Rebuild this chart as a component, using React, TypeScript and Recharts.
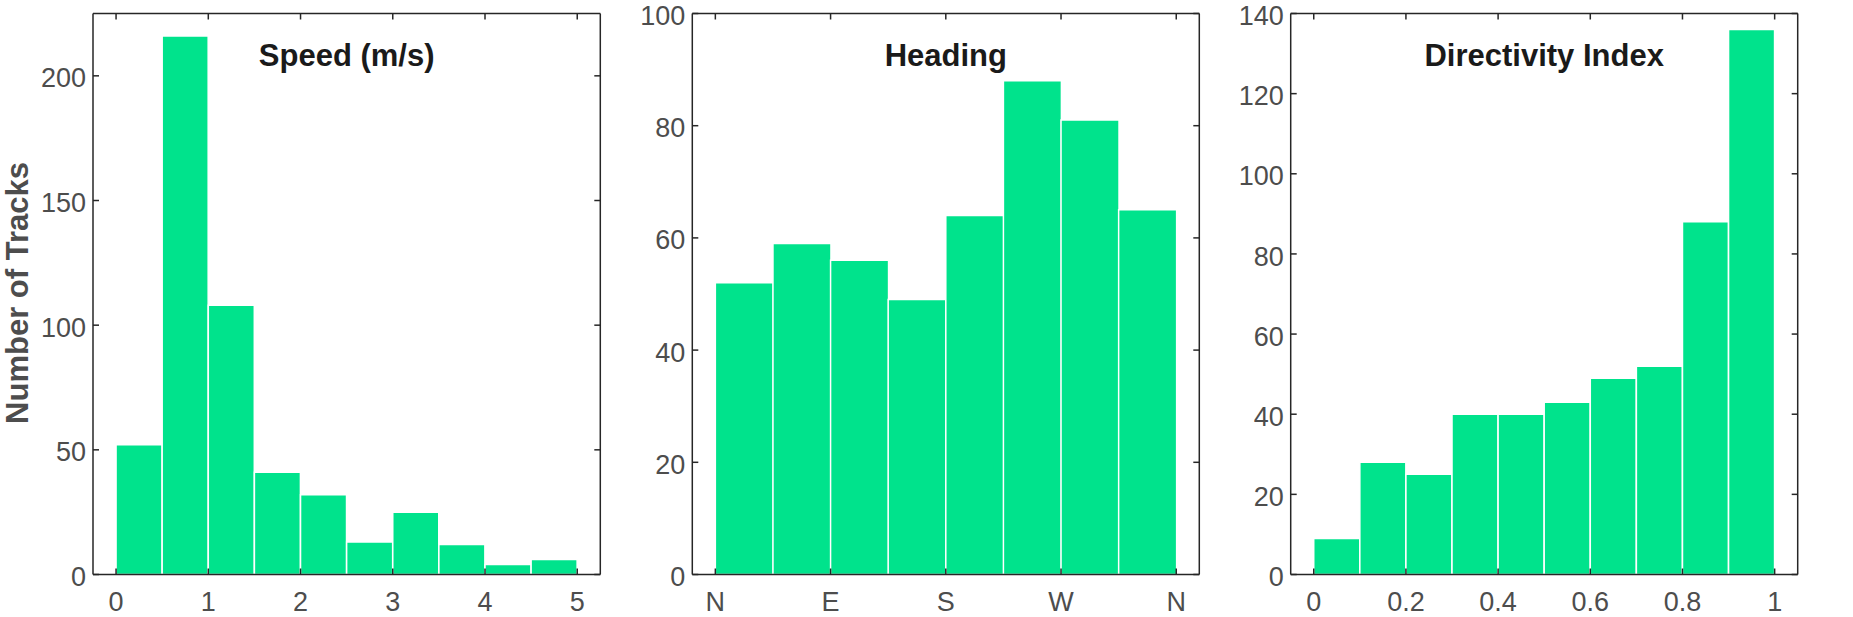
import { Bar, BarChart, XAxis, YAxis } from "recharts";

const speedBins = [0.25, 0.75, 1.25, 1.75, 2.25, 2.75, 3.25, 3.75, 4.25, 4.75];
const speedCounts = [52, 216, 108, 41, 32, 13, 25, 12, 4, 6];
const speedTicks = [0, 1, 2, 3, 4, 5];
const speedYTicks = [0, 50, 100, 150, 200];

const headingBins = [22.5, 67.5, 112.5, 157.5, 202.5, 247.5, 292.5, 337.5];
const headingCounts = [52, 59, 56, 49, 64, 88, 81, 65];
const headingTicks = [0, 90, 180, 270, 360];
const headingTickLabels = ["N", "E", "S", "W", "N"];
const headingYTicks = [0, 20, 40, 60, 80, 100];

const directivityBins = [0.05, 0.15, 0.25, 0.35, 0.45, 0.55, 0.65, 0.75, 0.85, 0.95];
const directivityCounts = [9, 28, 25, 40, 40, 43, 49, 52, 88, 136];
const directivityTicks = [0, 0.2, 0.4, 0.6, 0.8, 1];
const directivityYTicks = [0, 20, 40, 60, 80, 100, 120, 140];

const FONT = "'Liberation Sans', Arial, Helvetica, sans-serif";
const BAR = "#00e38c";
const AXIS = "#262626";
const LABEL = "#4d4d4d";
const H = 617;
const PLOT_TOP = 13.5;
const X_AXIS_H = 42.5;
const TICK_LEN = 6;
const X_MARGIN = 17;
const Y_MARGIN = 7;

// matlab-style inward ticks on both sides of the box, drawn from the label anchor
function bottomTick(fmt: (v: number) => string) {
  return (props: any) => {
    const { x, y, payload } = props;
    const base = y - X_MARGIN;
    return (
      <g>
        <line x1={x} x2={x} y1={base} y2={base - TICK_LEN} stroke={AXIS} strokeWidth={1.5} />
        <line x1={x} x2={x} y1={PLOT_TOP} y2={PLOT_TOP + TICK_LEN} stroke={AXIS} strokeWidth={1.5} />
        <text x={x} y={y} dy="0.71em" textAnchor="middle" fill={LABEL} fontSize={27} fontFamily={FONT}>
          {fmt(payload.value)}
        </text>
      </g>
    );
  };
}

function leftTick(rightX: number) {
  return (props: any) => {
    const { x, y, payload } = props;
    const base = x + Y_MARGIN;
    return (
      <g>
        <line x1={base} x2={base + TICK_LEN} y1={y} y2={y} stroke={AXIS} strokeWidth={1.5} />
        <line x1={rightX} x2={rightX - TICK_LEN} y1={y} y2={y} stroke={AXIS} strokeWidth={1.5} />
        <text x={x} y={y + 2} dy="0.355em" textAnchor="end" fill={LABEL} fontSize={27} fontFamily={FONT}>
          {String(payload.value)}
        </text>
      </g>
    );
  };
}

type PanelProps = {
  left: number;
  width: number;
  yAxisWidth: number;
  marginRight: number;
  bins: number[];
  counts: number[];
  xDomain: [number, number];
  xTicks: number[];
  xFormat: (v: number) => string;
  yDomain: [number, number];
  yTicks: number[];
  title: string;
};

function HistPanel(p: PanelProps) {
  const data = p.bins.map((b, i) => ({ x: b, n: p.counts[i] }));
  const axisLine = { stroke: AXIS, strokeWidth: 1.5 };
  const plotLeft = p.yAxisWidth;
  const plotRight = p.width - p.marginRight - 1;

  return (
    <div style={{ position: "absolute", left: p.left, top: 0, width: p.width, height: H }}>
      <BarChart
        width={p.width}
        height={H}
        data={data}
        margin={{ top: PLOT_TOP - 1, right: p.marginRight, bottom: 0, left: 0 }}
        barCategoryGap={0}
        barGap={0}
      >
        <Bar dataKey="n" fill={BAR} stroke="#ffffff" strokeWidth={1.5} isAnimationActive={false} />
        <XAxis
          dataKey="x"
          type="number"
          domain={p.xDomain}
          ticks={p.xTicks}
          allowDataOverflow
          height={X_AXIS_H}
          tickSize={0}
          tickMargin={X_MARGIN}
          axisLine={axisLine}
          tickLine={false}
          tick={bottomTick(p.xFormat)}
          interval={0}
        />
        <XAxis
          xAxisId="top"
          orientation="top"
          type="number"
          domain={p.xDomain}
          allowDataOverflow
          height={1}
          axisLine={axisLine}
          tickLine={false}
          tick={false}
        />
        <YAxis
          type="number"
          domain={p.yDomain}
          ticks={p.yTicks}
          allowDataOverflow
          width={p.yAxisWidth}
          tickSize={0}
          tickMargin={Y_MARGIN}
          axisLine={axisLine}
          tickLine={false}
          tick={leftTick(plotRight)}
          interval={0}
        />
        <YAxis
          yAxisId="right"
          orientation="right"
          type="number"
          domain={p.yDomain}
          allowDataOverflow
          width={1}
          axisLine={axisLine}
          tickLine={false}
          tick={false}
        />
      </BarChart>
      <div
        style={{
          position: "absolute",
          left: plotLeft,
          width: plotRight - plotLeft,
          top: 40,
          textAlign: "center",
          fontFamily: FONT,
          fontWeight: 700,
          fontSize: 31,
          lineHeight: "31px",
          color: "#1a1a1a",
        }}
      >
        {p.title}
      </div>
    </div>
  );
}

export default function App() {
  return (
    <div
      style={{
        position: "absolute",
        left: 0,
        top: 0,
        width: 1853,
        height: H,
        background: "#ffffff",
        overflow: "hidden",
      }}
    >
      <div
        style={{
          position: "absolute",
          left: 17,
          top: 293,
          transform: "translate(-50%, -50%) rotate(-90deg)",
          whiteSpace: "nowrap",
          fontFamily: FONT,
          fontWeight: 700,
          fontSize: 31,
          lineHeight: "31px",
          color: LABEL,
        }}
      >
        Number of Tracks
      </div>
      <HistPanel
        left={0}
        width={620}
        yAxisWidth={93}
        marginRight={18.7}
        bins={speedBins}
        counts={speedCounts}
        xDomain={[-0.25, 5.25]}
        xTicks={speedTicks}
        xFormat={(v) => String(v)}
        yDomain={[0, 225]}
        yTicks={speedYTicks}
        title="Speed (m/s)"
      />
      <HistPanel
        left={620}
        width={600}
        yAxisWidth={72.3}
        marginRight={19.7}
        bins={headingBins}
        counts={headingCounts}
        xDomain={[-18, 378]}
        xTicks={headingTicks}
        xFormat={(v) => headingTickLabels[headingTicks.indexOf(v)] ?? ""}
        yDomain={[0, 100]}
        yTicks={headingYTicks}
        title="Heading"
      />
      <HistPanel
        left={1220}
        width={633}
        yAxisWidth={70.7}
        marginRight={54.3}
        bins={directivityBins}
        counts={directivityCounts}
        xDomain={[-0.05, 1.05]}
        xTicks={directivityTicks}
        xFormat={(v) => String(v)}
        yDomain={[0, 140]}
        yTicks={directivityYTicks}
        title="Directivity Index"
      />
    </div>
  );
}
